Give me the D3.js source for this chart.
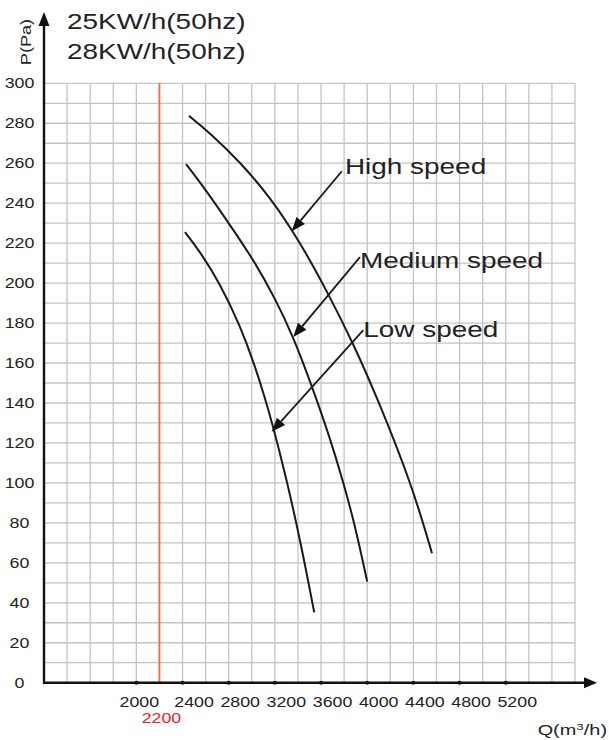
<!DOCTYPE html>
<html>
<head>
<meta charset="utf-8">
<script src="https://cdn.jsdelivr.net/npm/d3@7"></script>
<style>
  html, body { margin: 0; padding: 0; background: #fff; }
  svg text { font-family: "Liberation Sans", Arial, sans-serif; fill: #222; }
</style>
</head>
<body>
<svg id="chart" width="609" height="740"></svg>
<script>
// ---- data ----
const titleLines = ["25KW/h(50hz)", "28KW/h(50hz)"];
const yTicks = [0, 20, 40, 60, 80, 100, 120, 140, 160, 180, 200, 220, 240, 260, 280, 300];
const xTicks = [2000, 2400, 2800, 3200, 3600, 4000, 4400, 4800, 5200];
const markerQ = 2200;

const highSpeed = [[2456, 283.7], [2638, 275.1], [2898, 260.6], [3158, 243.1], [3418, 220.6], [3660, 195], [3877, 170], [4084, 143], [4388, 98.9], [4561, 64.8]];
const mediumSpeed = [[2430, 259.6], [2595, 247.2], [2837, 226.9], [3028, 210.4], [3201, 192.4], [3357, 173.5], [3521, 148.5], [3677, 122.6], [3790, 100.9], [3894, 78.9], [4000, 50.6]];
const lowSpeed = [[2421, 225.5], [2551, 215.8], [2725, 199.8], [2898, 178.8], [3028, 158.5], [3114, 142.5], [3175, 130.2], [3288, 105], [3418, 71.9], [3541, 35.2]];

const seriesNames = ["High speed", "Medium speed", "Low speed"];
// annotation anchors in data units: arrow tail, arrow tip (on curve), label start
const arrowTails = [[3780, 256], [3937, 213], [3966, 176.5]];
const arrowTips = [[3346, 226], [3359, 173], [3172, 125.6]];
const labelAnchors = [[3807, 254.5], [3937, 207.4], [3966, 173.2]];

// ---- layout ----
const svg = d3.select("#chart");
const X0 = 44, X1 = 575, Y0 = 682.7, Y1 = 83.3;
const x = d3.scaleLinear().domain([1200, 5800]).range([X0, X1]);
const y = d3.scaleLinear().domain([0, 300]).range([Y0, Y1]);
const SX = 1.27; // horizontal stretch of text

function stretchedText(g, tx, ty, str, size, anchor, color) {
  const t = g.append("text")
    .attr("transform", `translate(${tx},${ty}) scale(${SX},1)`)
    .attr("font-size", size)
    .attr("text-anchor", anchor || "start")
    .text(str);
  if (color) t.style("fill", color);
  return t;
}

// grid
const grid = svg.append("g");
grid.selectAll("line.v").data(d3.range(1400, 5801, 200)).join("line")
  .attr("x1", d => x(d)).attr("x2", d => x(d))
  .attr("y1", y(0)).attr("y2", y(300))
  .attr("stroke", "#c4c4c4").attr("stroke-width", 1.3);
grid.selectAll("line.h").data(d3.range(10, 301, 10)).join("line")
  .attr("x1", x(1200)).attr("x2", x(5800))
  .attr("y1", d => y(d)).attr("y2", d => y(d))
  .attr("stroke", "#c4c4c4").attr("stroke-width", 1.3);

// red reference line
svg.append("line")
  .attr("x1", x(markerQ)).attr("x2", x(markerQ))
  .attr("y1", y(0)).attr("y2", y(300))
  .attr("stroke", "#f26a45").attr("stroke-width", 1.8);

// axes
const axisColor = "#111";
svg.append("line").attr("x1", X0).attr("x2", X0).attr("y1", Y0 + 1).attr("y2", 22)
  .attr("stroke", axisColor).attr("stroke-width", 2.4);
svg.append("path").attr("d", `M${X0},12 L${X0 - 5.5},26 L${X0 + 5.5},26 Z`).attr("fill", axisColor);
svg.append("line").attr("x1", X0 - 1).attr("x2", 588).attr("y1", Y0).attr("y2", Y0)
  .attr("stroke", axisColor).attr("stroke-width", 2.4);
svg.append("path").attr("d", `M597,${Y0} L584,${Y0 - 5.5} L584,${Y0 + 5.5} Z`).attr("fill", axisColor);

// x tick dots + labels
svg.selectAll("circle.tick").data(xTicks).join("circle")
  .attr("cx", d => x(d)).attr("cy", Y0).attr("r", 2).attr("fill", axisColor);
const xl = svg.append("g");
xTicks.forEach(d => {
  const dx = d === xTicks[0] ? 3 : 11.5;
  stretchedText(xl, x(d) + dx, 706.5, String(d), 14, "middle");
});
stretchedText(xl, x(markerQ) + 2, 723, String(markerQ), 14, "middle", "#e8202a");

// y labels
const yl = svg.append("g");
yTicks.forEach(d => stretchedText(yl, 19.5, y(d) + 5, String(d), 14, "middle"));

// axis titles
svg.append("text")
  .attr("transform", `translate(31,42) rotate(-90) scale(1.25,1)`)
  .attr("font-size", 14.5).attr("text-anchor", "middle").text("P(Pa)");
const q = svg.append("text")
  .attr("transform", `translate(607,735) scale(1.42,1)`)
  .attr("font-size", 14).attr("text-anchor", "end");
q.append("tspan").text("Q(m");
q.append("tspan").attr("font-size", 9.5).attr("dy", -5).text("3");
q.append("tspan").attr("dy", 5).text("/h)");

// title
titleLines.forEach((t, i) => stretchedText(svg, 67, 28.5 + i * 30, t, 22, "start"));

// curves
const line = d3.line().x(d => x(d[0])).y(d => y(d[1])).curve(d3.curveBasis);
svg.selectAll("path.curve").data([highSpeed, mediumSpeed, lowSpeed]).join("path")
  .attr("d", line).attr("fill", "none").attr("stroke", "#1a1a1a").attr("stroke-width", 2);

// arrows + labels
seriesNames.forEach((name, i) => {
  const [tx, ty] = [x(arrowTails[i][0]), y(arrowTails[i][1])];
  const [hx, hy] = [x(arrowTips[i][0]), y(arrowTips[i][1])];
  const ang = Math.atan2(hy - ty, hx - tx);
  const L = 14, W = 5.5;
  const bx = hx - L * Math.cos(ang), by = hy - L * Math.sin(ang);
  svg.append("line").attr("x1", tx).attr("y1", ty).attr("x2", bx).attr("y2", by)
    .attr("stroke", "#1a1a1a").attr("stroke-width", 1.8);
  const px = -Math.sin(ang) * W, py = Math.cos(ang) * W;
  svg.append("path")
    .attr("d", `M${hx},${hy} L${bx + px},${by + py} L${bx - px},${by - py} Z`)
    .attr("fill", "#111");
  stretchedText(svg, x(labelAnchors[i][0]), y(labelAnchors[i][1]), name, 22, "start");
});
</script>
</body>
</html>
